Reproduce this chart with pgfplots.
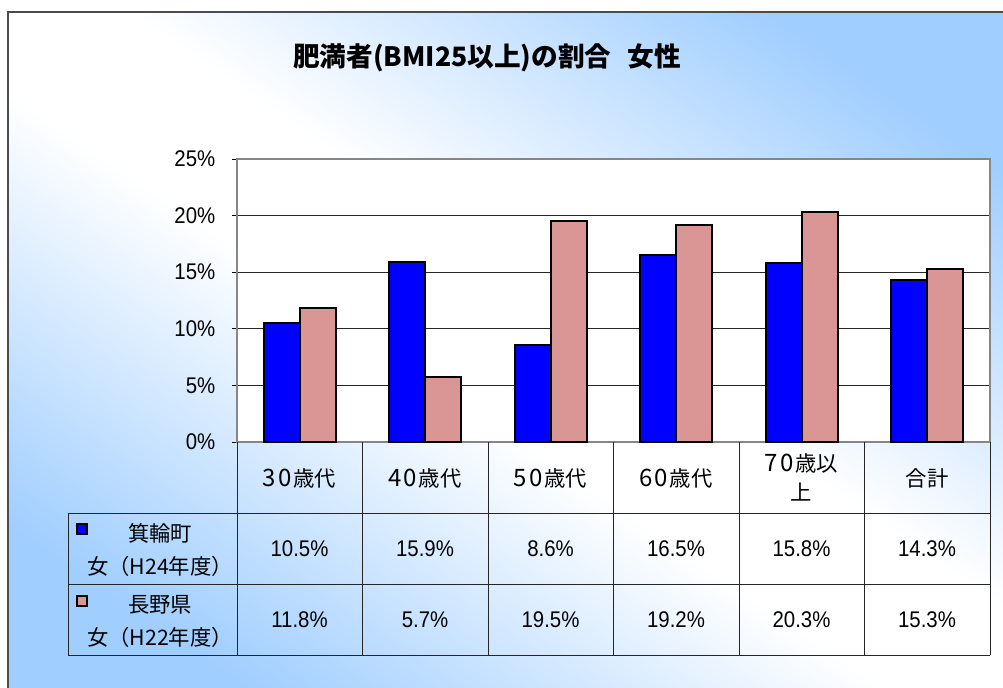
\documentclass[border=0pt]{standalone}
\usepackage{pgfplots}
\pgfplotsset{compat=1.18}
\usepackage{fontspec}
\setmainfont{Noto Sans CJK JP}
\newfontfamily\numfont[FakeStretch=0.9]{Liberation Sans}
\definecolor{skyb}{RGB}{160,206,255}
\definecolor{barblue}{RGB}{0,0,255}
\definecolor{barpink}{RGB}{217,150,148}
\definecolor{axgray}{RGB}{134,134,134}
\pgfdeclareverticalshading{bgshade}{100bp}{color(0bp)=(skyb); color(31bp)=(skyb); color(47bp)=(white); color(53bp)=(white); color(69bp)=(skyb); color(100bp)=(skyb)}
\newcommand\dg[1]{{\fontsize{18}{19}\selectfont #1}}
\begin{document}
\begin{tikzpicture}[x=0.75pt,y=-0.75pt]
\path[use as bounding box] (0,0) rectangle (1003,687);
\begin{scope}
\clip (8,12) rectangle (1003,687);
\begin{scope}[transform canvas={rotate around={-34.2:(505.5,349.5)}}]
\shade[shading=bgshade] (-300,-210.5) rectangle (1311,909.5);
\end{scope}
\end{scope}
\draw[black!70, line width=1.5pt] (8,690) -- (8,12) -- (1010,12);
\node[font=\bfseries\fontsize{20}{22}\selectfont] at (487,58) {肥満者(BMI25以上)の割合\hspace{0.6em}女性};
\coordinate (AO) at (237,442);
\begin{axis}[at={(AO)}, anchor=south west, scale only axis,
  width=564.75pt, height=212.25pt,
  xmin=-0.5, xmax=5.5, ymin=0, ymax=25,
  ybar=0pt, bar width=27pt,
  xtick=\empty,
  ytick={0,5,10,15,20,25},
  yticklabels={0\%,5\%,10\%,15\%,20\%,25\%},
  ytick pos=left, tick align=outside,
  major tick length=3.75pt,
  tick style={black, line width=0.75pt},
  yticklabel style={font=\numfont\fontsize{17}{18}\selectfont, xshift=-9pt},
  ymajorgrids, grid style={black!85, line width=0.75pt},
  axis line style={axgray, line width=1.5pt},
  axis background/.style={fill=white},
  clip=false]
\addplot[fill=barblue, draw=black, line width=1.5pt] coordinates {(0,10.5) (1,15.9) (2,8.6) (3,16.5) (4,15.8) (5,14.3)};
\addplot[fill=barpink, draw=black, line width=1.5pt] coordinates {(0,11.8) (1,5.7) (2,19.5) (3,19.2) (4,20.3) (5,15.3)};
\end{axis}
% data table
\begin{scope}[black!85, line width=0.75pt]
\draw (68,513) -- (990,513);
\draw (68,584) -- (990,584);
\draw (68,655) -- (990,655);
\draw (68,513) -- (68,655);
\foreach \xx in {237,362,488,613,739,864,990} \draw (\xx,442) -- (\xx,655);
\end{scope}
\begin{scope}[font=\fontsize{16}{18}\selectfont]
\node at (299.5,478) {\dg{3\kern1.5pt0}\kern1.5pt歳代};
\node at (425,478) {\dg{4\kern1.5pt0}\kern1.5pt歳代};
\node at (550.5,478) {\dg{5\kern1.5pt0}\kern1.5pt歳代};
\node at (676,478) {\dg{6\kern1.5pt0}\kern1.5pt歳代};
\node at (801.5,463) {\dg{7\kern1.5pt0}\kern1.5pt歳以};
\node at (801.5,492) {上};
\node at (927,478) {合計};
\node at (160,533) {箕輪町};
\node at (160,566) {女（H24年度）};
\node at (160,605) {長野県};
\node at (160,637) {女（H22年度）};
\end{scope}
\draw[fill=barblue, line width=1.2pt] (77,524) rectangle (87,534);
\draw[fill=barpink, line width=1.2pt] (77,596) rectangle (87,606);
\begin{scope}[font=\numfont\fontsize{17}{18}\selectfont]
\foreach \xx/\va/\vb in {299.5/10.5/11.8, 425/15.9/5.7, 550.5/8.6/19.5, 676/16.5/19.2, 801.5/15.8/20.3, 927/14.3/15.3} {
  \node at (\xx,549) {\va\%};
  \node at (\xx,620) {\vb\%};
}
\end{scope}
\end{tikzpicture}
\end{document}
